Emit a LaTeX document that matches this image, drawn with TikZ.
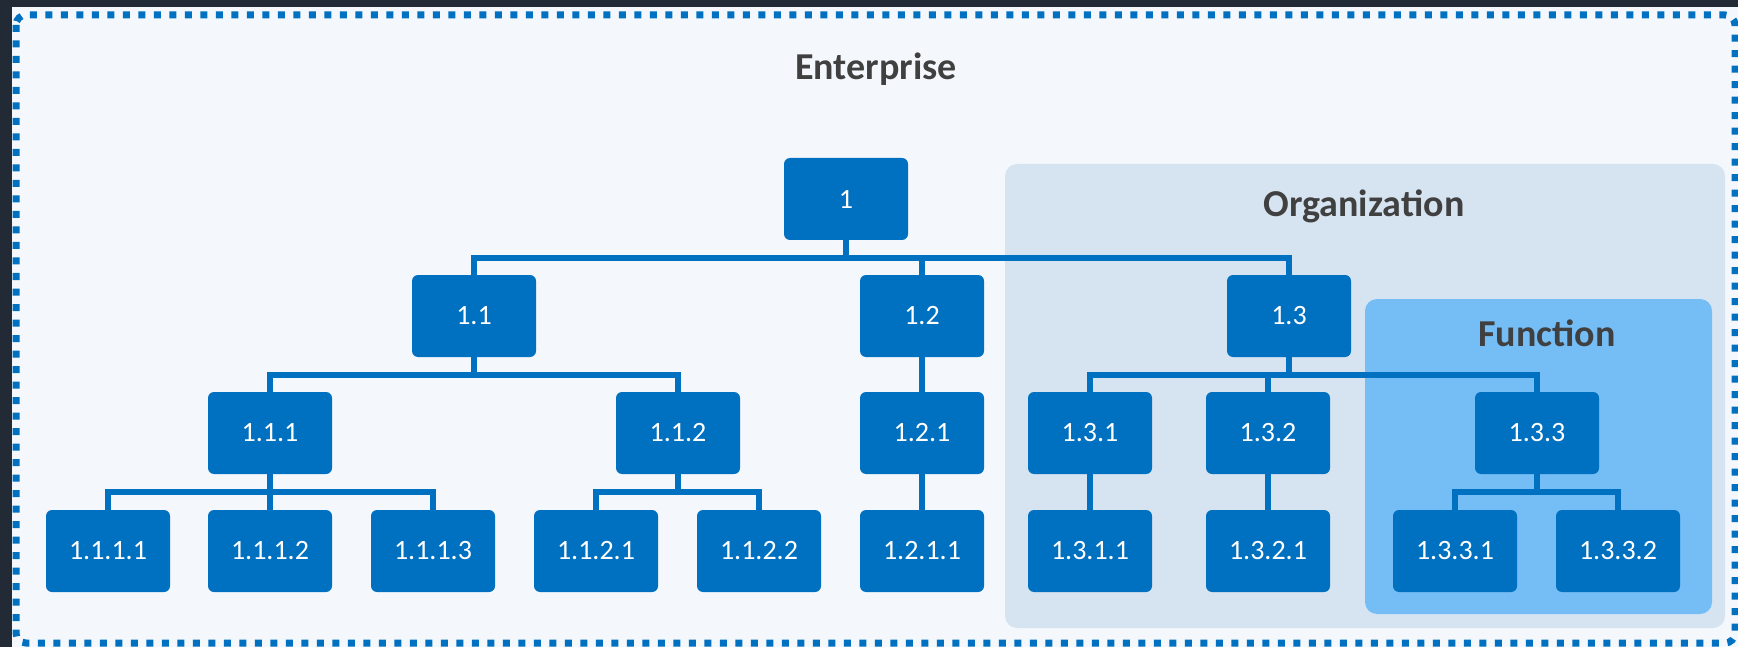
\documentclass[tikz,border=0pt]{standalone}
\usepackage{fontspec}
\setmainfont{Carlito}
\definecolor{darkbg}{HTML}{222A35}
\definecolor{lightbg}{HTML}{F4F8FC}
\definecolor{nodeblue}{HTML}{0070C0}
\definecolor{orgfill}{HTML}{D6E3F0}
\definecolor{funcfill}{HTML}{74BDF5}
\definecolor{labelgray}{HTML}{404040}
\pgfdeclarelayer{back}
\pgfdeclarelayer{edges}
\pgfsetlayers{back,edges,main}
\tikzset{
  box/.style={fill=nodeblue, rounded corners=6pt, minimum width=124pt, minimum height=82pt,
    inner sep=0pt, text=white, font=\fontsize{28}{30}\selectfont},
  conn/.style={draw=nodeblue, line width=5.5pt},
  title/.style={text=labelgray, font=\bfseries\fontsize{38}{40}\selectfont, inner sep=0pt}
}
\begin{document}
\begin{tikzpicture}[x=1pt, y=-1pt]
\useasboundingbox (0,0) rectangle (1738,647);
\begin{pgfonlayer}{back}
  \fill[darkbg] (0,0) rectangle (1738,647);
  \fill[lightbg] (12,7) rectangle (1738,647);
  \draw[nodeblue, line width=7pt, dash pattern=on 7pt off 8.5pt, rounded corners=10pt]
    (16,15) rectangle (1735,643);
  \fill[orgfill, rounded corners=12pt] (1005,164) rectangle (1725,628);
  \fill[funcfill, rounded corners=12pt] (1365,299) rectangle (1712,614);
\end{pgfonlayer}

\node[title] (ent) at (876,69) {Enterprise};
\node[title] (org) at (1364,206) {Organization};
\node[title] (fun) at (1547,333) {Function};

% level 0
\node[box] (n1) at (846,199) {1};
% level 1
\node[box] (n11) at (474,316) {1.1};
\node[box] (n12) at (922,316) {1.2};
\node[box] (n13) at (1289,316) {1.3};
% level 2
\node[box] (n111) at (270,433) {1.1.1};
\node[box] (n112) at (678,433) {1.1.2};
\node[box] (n121) at (922,433) {1.2.1};
\node[box] (n131) at (1090,433) {1.3.1};
\node[box] (n132) at (1268,433) {1.3.2};
\node[box] (n133) at (1537,433) {1.3.3};
% level 3
\node[box] (n1111) at (108,551) {1.1.1.1};
\node[box] (n1112) at (270,551) {1.1.1.2};
\node[box] (n1113) at (433,551) {1.1.1.3};
\node[box] (n1121) at (596,551) {1.1.2.1};
\node[box] (n1122) at (759,551) {1.1.2.2};
\node[box] (n1211) at (922,551) {1.2.1.1};
\node[box] (n1311) at (1090,551) {1.3.1.1};
\node[box] (n1321) at (1268,551) {1.3.2.1};
\node[box] (n1331) at (1455,551) {1.3.3.1};
\node[box] (n1332) at (1618,551) {1.3.3.2};

\begin{pgfonlayer}{edges}
  \foreach \p/\c in {n1/n11, n1/n12, n1/n13,
                     n11/n111, n11/n112, n12/n121,
                     n13/n131, n13/n132, n13/n133,
                     n111/n1111, n111/n1112, n111/n1113,
                     n112/n1121, n112/n1122, n121/n1211,
                     n131/n1311, n132/n1321,
                     n133/n1331, n133/n1332}
    \draw[conn] (\p.south) -- ++(0,18) -| (\c.north);
\end{pgfonlayer}
\end{tikzpicture}
\end{document}
